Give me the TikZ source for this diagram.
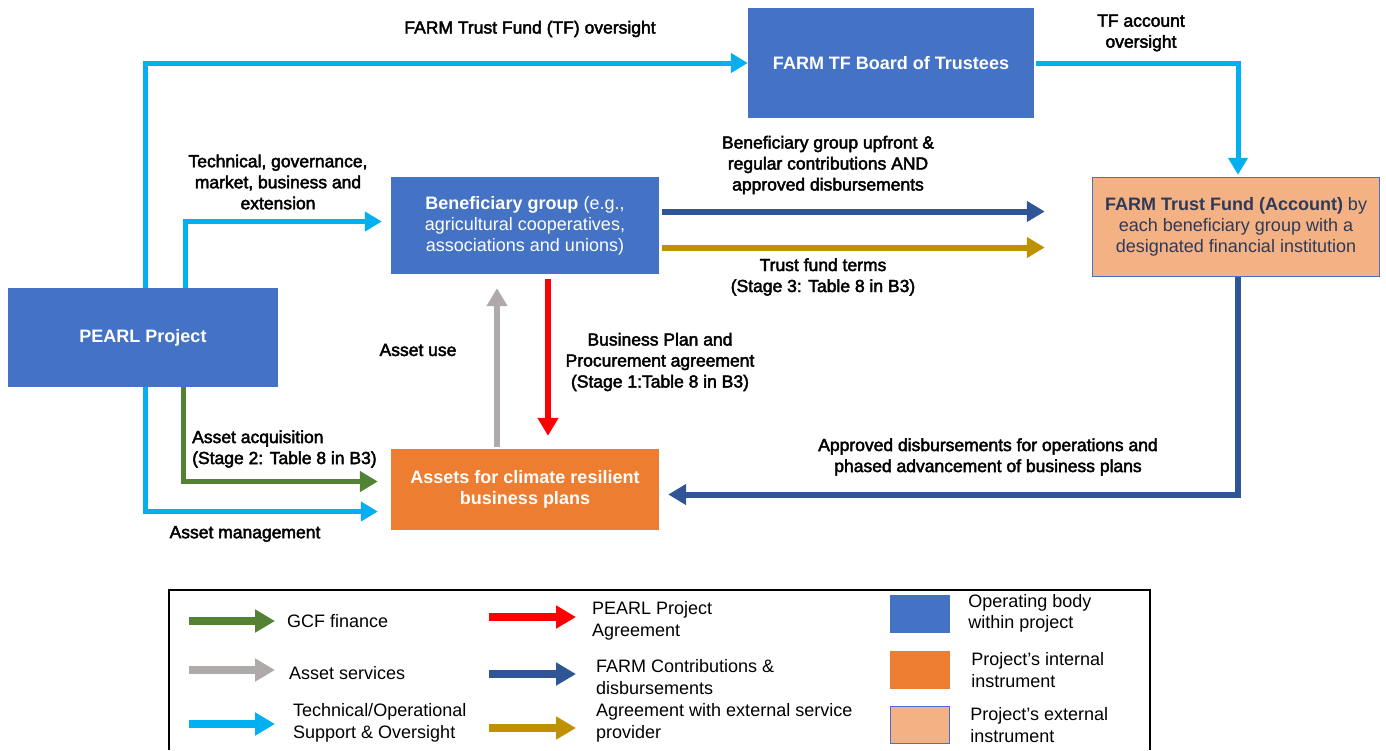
\documentclass[tikz,border=0pt]{standalone}
\usepackage{fontspec}
\setmainfont{Liberation Sans}
\newfontfamily\lblfont{Liberation Sans}[FakeBold=2.5]
\usetikzlibrary{arrows.meta,positioning,calc}

\definecolor{opblue}{HTML}{4472C4}
\definecolor{intorange}{HTML}{ED7D31}
\definecolor{extorange}{HTML}{F4B183}
\definecolor{tftext}{HTML}{2E3A59}
\definecolor{supblue}{HTML}{00B0F0}
\definecolor{gcfgreen}{HTML}{548235}
\definecolor{servgray}{HTML}{AEAAAA}
\definecolor{agrred}{HTML}{FF0000}
\definecolor{farmblue}{HTML}{2F5597}
\definecolor{extgold}{HTML}{BF9000}

\begin{document}
\begin{tikzpicture}[x=1pt, y=-1pt,
    unit/.style = {fill=opblue, text=white, inner sep=0pt, align=center, font=\fontsize{18}{21}\selectfont},
    internal/.style = {fill=intorange, text=white, inner sep=0pt, align=center, font=\fontsize{18}{21}\selectfont},
    external/.style = {fill=extorange, draw=opblue, line width=1.5pt, text=tftext, inner sep=0pt, align=center, font=\fontsize{18}{21}\selectfont},
    lbl/.style = {inner sep=0pt, align=center, font=\lblfont\fontsize{17.5}{21}\selectfont},
    leg/.style = {inner sep=0pt, align=left, anchor=west, font=\fontsize{18}{21.5}\selectfont},
    tsup/.style = {supblue, line width=5pt, -{Triangle[width=19pt,length=17pt]}},
    gcf/.style = {gcfgreen, line width=5pt, -{Triangle[width=20pt,length=18pt]}},
    aserv/.style = {servgray, line width=6pt, -{Triangle[width=20pt,length=18pt]}},
    pagr/.style = {agrred, line width=6pt, -{Triangle[width=20pt,length=18pt]}},
    fcontr/.style = {farmblue, line width=6pt, -{Triangle[width=20pt,length=18pt]}},
    extagr/.style = {extgold, line width=6pt, -{Triangle[width=20pt,length=18pt]}},
    legarr/.style = {line width=8pt, -{Triangle[width=22pt,length=20pt]}}]
  \useasboundingbox (0,0) rectangle (1386,750);

  % operating bodies and instruments
  \node[unit, minimum width=270pt, minimum height=99pt] (pearl) at (143,337.5) {\textbf{PEARL Project}};
  \node[unit, minimum width=268pt, minimum height=97pt] (benef) at (525,225.5)
    {\textbf{Beneficiary group} (e.g.,\\agricultural cooperatives,\\associations and unions)};
  \node[unit, minimum width=286pt, minimum height=110pt] (board) at (891,63) {\textbf{FARM TF Board of Trustees}};
  \node[external, minimum width=287pt, minimum height=99pt] (tfacct) at (1236,227)
    {\textbf{FARM Trust Fund (Account)} by\\each beneficiary group with a\\designated financial institution};
  \node[internal, minimum width=268pt, minimum height=81pt] (assets) at (525,489.5)
    {\textbf{Assets for climate resilient}\\\textbf{business plans}};

  % flows
  \draw[tsup] ($(pearl.north)+(2,0)$) |- (board.west);
  \draw[tsup] ($(pearl.north)+(42,0)$) |- ($(benef.west)+(-9,-4)$);
  \draw[tsup] ($(pearl.south)+(2,0)$) |- ($(assets.west)+(-13,22)$);
  \draw[gcf] ($(pearl.south)+(40,0)$) |- ($(assets.west)+(-13,-8)$);
  \draw[aserv] ($(assets.north)+(-28,-2)$) -- ($(benef.south)+(-28,14)$);
  \draw[pagr] ($(benef.south)+(23,5)$) -- ($(assets.north)+(23,-13)$);
  \draw[fcontr] ($(benef.east)+(3,-14)$) -- ($(benef.east -| tfacct.west)+(-47,-14)$);
  \draw[extagr] ($(benef.east)+(3,22)$) -- ($(benef.east -| tfacct.west)+(-47,22)$);
  \draw[tsup] ($(board.east)+(2,0)$) -| ($(tfacct.north)+(2,-2)$);
  \draw[fcontr] ($(tfacct.south)+(2,0)$) |- ($(assets.east)+(9,5)$);

  % flow labels
  \node[lbl] (tfover) at (530,29) {FARM Trust Fund (TF) oversight};
  \node[lbl] (accover) at (1141,33) {TF account\\oversight};
  \node[lbl] (techlbl) at (278,182) {Technical, governance,\\market, business and\\extension};
  \node[lbl] (contrlbl) at (828,165) {Beneficiary group upfront \&\\regular contributions AND\\approved disbursements};
  \node[lbl] (termlbl) at (823,277) {Trust fund terms\\(Stage 3: Table 8 in B3)};
  \node[lbl] (uselbl) at (418,350) {Asset use};
  \node[lbl] (planlbl) at (660,362) {Business Plan and\\Procurement agreement\\(Stage 1:Table 8 in B3)};
  \node[lbl, align=left, anchor=west] (acqlbl) at (192,449) {Asset acquisition\\(Stage 2: Table 8 in B3)};
  \node[lbl] (mgmtlbl) at (245,534) {Asset management};
  \node[lbl] (disblbl) at (988,457) {Approved disbursements for operations and\\phased advancement of business plans};

  % legend
  \draw[line width=1.5pt] (169,750) |- (1150,590) -- (1150,750);
  \node[leg] (lgGcf) at (287,621) {GCF finance};
  \node[leg] (lgServ) at (289,673) {Asset services};
  \node[leg] (lgTech) at (293,723) {Technical/Operational\\Support \& Oversight};
  \node[leg] (lgPagr) at (592,621) {PEARL Project\\Agreement};
  \node[leg] (lgFarm) at (596,677) {FARM Contributions \&\\disbursements};
  \node[leg] (lgExt) at (596,723) {Agreement with external service\\provider};
  \draw[legarr, gcfgreen] ($(lgGcf.west)+(-98,0)$) -- ($(lgGcf.west)+(-12,0)$);
  \draw[legarr, servgray] ($(lgServ.west)+(-100,-3)$) -- ($(lgServ.west)+(-14,-3)$);
  \draw[legarr, supblue] ($(lgTech.west)+(-104,1)$) -- ($(lgTech.west)+(-18,1)$);
  \draw[legarr, agrred] ($(lgPagr.west)+(-103,-4)$) -- ($(lgPagr.west)+(-16,-4)$);
  \draw[legarr, farmblue] ($(lgFarm.west)+(-107,-3)$) -- ($(lgFarm.west)+(-20,-3)$);
  \draw[legarr, extgold] ($(lgExt.west)+(-107,5)$) -- ($(lgExt.west)+(-20,5)$);

  \node[fill=opblue, minimum width=60pt, minimum height=38pt, inner sep=0pt] (sqOp) at (920,613.5) {};
  \node[leg, right=18pt of sqOp] (lgOp) {Operating body\\within project};
  \node[fill=intorange, minimum width=60pt, minimum height=38pt, inner sep=0pt] (sqInt) at (920,670) {};
  \node[leg, right=21pt of sqInt] (lgInt) {Project’s internal\\instrument};
  \node[fill=extorange, draw=opblue, line width=1.5pt, minimum width=59pt, minimum height=37pt, inner sep=0pt] (sqExt) at (920,725) {};
  \node[leg, right=20pt of sqExt] (lgExt2) {Project’s external\\instrument};
\end{tikzpicture}
\end{document}
